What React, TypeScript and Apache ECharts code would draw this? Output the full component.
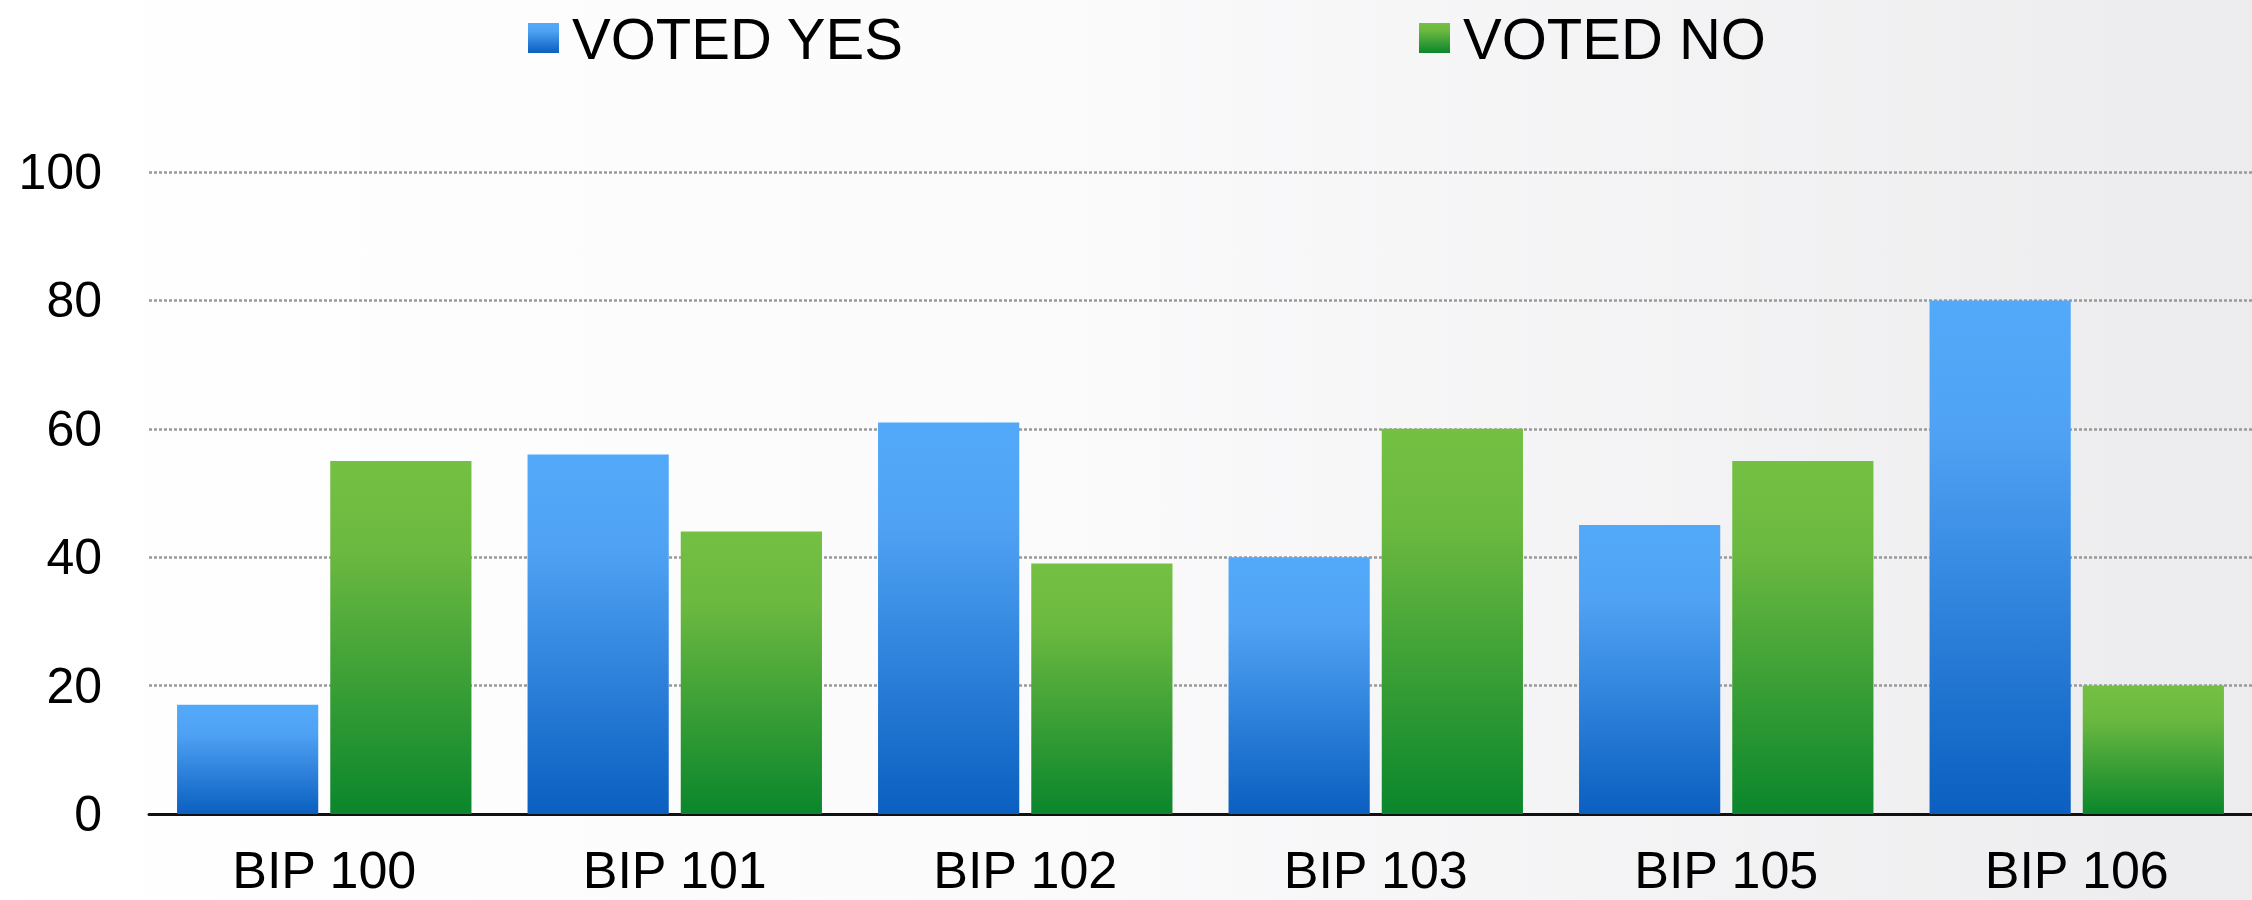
import React, { useEffect, useRef } from "react";
import * as echarts from "echarts";

const categories = ["BIP 100", "BIP 101", "BIP 102", "BIP 103", "BIP 105", "BIP 106"];
const votedYes = [17, 56, 61, 40, 45, 80];
const votedNo = [55, 44, 39, 60, 55, 20];
const seriesNames = ["VOTED YES", "VOTED NO"];

const blueGrad = () =>
  new echarts.graphic.LinearGradient(0, 0, 0, 1, [
    { offset: 0, color: "#53a9f9" },
    { offset: 0.25, color: "#50a3f4" },
    { offset: 1, color: "#0a5fc0" },
  ]);
const greenGrad = () =>
  new echarts.graphic.LinearGradient(0, 0, 0, 1, [
    { offset: 0, color: "#74c043" },
    { offset: 0.25, color: "#6cb940" },
    { offset: 1, color: "#0a862c" },
  ]);

export default function App() {
  const ref = useRef<HTMLDivElement>(null);
  useEffect(() => {
    document.body.style.margin = "0";
    const chart = echarts.init(ref.current!, null, { renderer: "svg" });
    const font = "Liberation Sans, Arial, sans-serif";
    const legendCommon = {
      top: 4,
      itemWidth: 31,
      itemHeight: 30,
      icon: "rect",
      textStyle: { fontSize: 58, color: "#000", fontFamily: font, padding: [0, 0, 0, 8] },
    };
    chart.setOption({
      animation: false,
      backgroundColor: new echarts.graphic.LinearGradient(0, 0, 1, 0, [
        { offset: 0, color: "#ffffff" },
        { offset: 0.45, color: "#fbfbfc" },
        { offset: 1, color: "#ececee" },
      ]),
      legend: [
        { ...legendCommon, left: 523, data: [seriesNames[0]] },
        { ...legendCommon, left: 1414, data: [seriesNames[1]] },
      ],
      grid: { left: 149, right: 0, top: 172, bottom: 86, containLabel: false },
      xAxis: {
        type: "category",
        data: categories,
        axisLine: { lineStyle: { color: "#111", width: 3 } },
        axisTick: { show: false },
        axisLabel: { fontSize: 52, color: "#000", fontFamily: font, margin: 30 },
      },
      yAxis: {
        type: "value",
        min: 0,
        max: 100,
        interval: 20,
        axisLine: { show: false },
        axisTick: { show: false },
        axisLabel: { fontSize: 50, color: "#000", fontFamily: font, margin: 47 },
        splitLine: { lineStyle: { color: "#999999", type: [3, 2], width: 2.5 } },
      },
      series: [
        {
          name: seriesNames[0],
          type: "bar",
          data: votedYes,
          barGap: "8.5%",
          barCategoryGap: "16%",
          itemStyle: { color: blueGrad() },
        },
        {
          name: seriesNames[1],
          type: "bar",
          data: votedNo,
          barGap: "8.5%",
          barCategoryGap: "16%",
          itemStyle: { color: greenGrad() },
        },
      ],
    });
    return () => chart.dispose();
  }, []);
  return <div ref={ref} style={{ width: 2252, height: 900 }} />;
}
